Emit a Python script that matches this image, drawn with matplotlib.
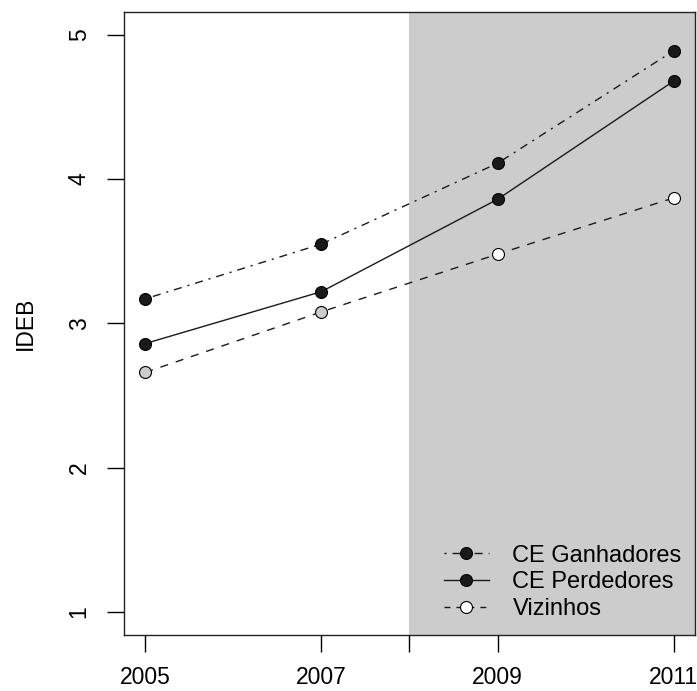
import matplotlib
matplotlib.use("Agg")
import matplotlib.pyplot as plt
from matplotlib.lines import Line2D

plt.rcParams['font.family'] = ['Liberation Sans', 'DejaVu Sans']

# Dados
anos = [2005, 2007, 2009, 2011]
ganhadores = [3.17, 3.55, 4.11, 4.89]
perdedores = [2.86, 3.22, 3.86, 4.68]
vizinhos = [2.66, 3.08, 3.48, 3.87]
fill_vizinhos = ['#cccccc', '#cccccc', 'white', 'white']
inicio_sombra = 2008

fig = plt.figure(figsize=(6.97, 6.91), dpi=100)
ax = fig.add_axes([0.178, 0.081, 0.819, 0.902])

ax.axvspan(inicio_sombra, 2013, color='#cccccc', lw=0, zorder=0)

ms = 8.6
ax.plot(anos, ganhadores, color='#1a1a1a', lw=1.0, dashes=(1.5, 4.3, 5.8, 4.3),
        marker='o', ms=ms, mfc='#1a1a1a', mec='black', mew=0.8, zorder=3)
ax.plot(anos, perdedores, color='#1a1a1a', lw=1.0,
        marker='o', ms=ms, mfc='#1a1a1a', mec='black', mew=0.8, zorder=3)
ax.plot(anos, vizinhos, color='#1a1a1a', lw=1.0, dashes=(5.8, 5.8), zorder=2)
for x, y, fc in zip(anos, vizinhos, fill_vizinhos):
    ax.plot([x], [y], marker='o', ms=ms, mfc=fc, mec='black', mew=0.8, zorder=3)

ax.set_xlim(2004.76, 2011.24)
ax.set_ylim(0.84, 5.16)
ax.set_xticks([2005, 2007, 2008, 2009, 2011])
ax.set_xticklabels(['2005', '2007', '', '2009', '2011'])
ax.set_yticks([1, 2, 3, 4, 5])
ax.set_yticklabels(['1', '2', '3', '4', '5'], rotation=90, va='center')
ax.tick_params(axis='both', labelsize=16.5, length=12, width=1.0, direction='out')
ax.tick_params(axis='x', pad=10)
ax.tick_params(axis='y', pad=12)
ax.set_ylabel('IDEB', fontsize=16.5, labelpad=22)

for s in ax.spines.values():
    s.set_linewidth(1.0)
    s.set_color('#222222')

handles = [
    Line2D([], [], color='#1a1a1a', lw=1.0, dashes=(1.5, 4.3, 5.8, 4.3), marker='o',
           ms=ms, mfc='#1a1a1a', mec='black', mew=0.8),
    Line2D([], [], color='#1a1a1a', lw=1.0, marker='o',
           ms=ms, mfc='#1a1a1a', mec='black', mew=0.8),
    Line2D([], [], color='#1a1a1a', lw=1.0, dashes=(4.3, 4.3), marker='o',
           ms=ms, mfc='white', mec='black', mew=0.8),
]
ax.legend(handles, ['CE Ganhadores', 'CE Perdedores', 'Vizinhos'], loc='lower right',
          frameon=False, fontsize=17, handlelength=1.9, handletextpad=1.0,
          labelspacing=0.2, bbox_to_anchor=(1.014, -0.01))

fig.savefig('out.png', dpi=100)
